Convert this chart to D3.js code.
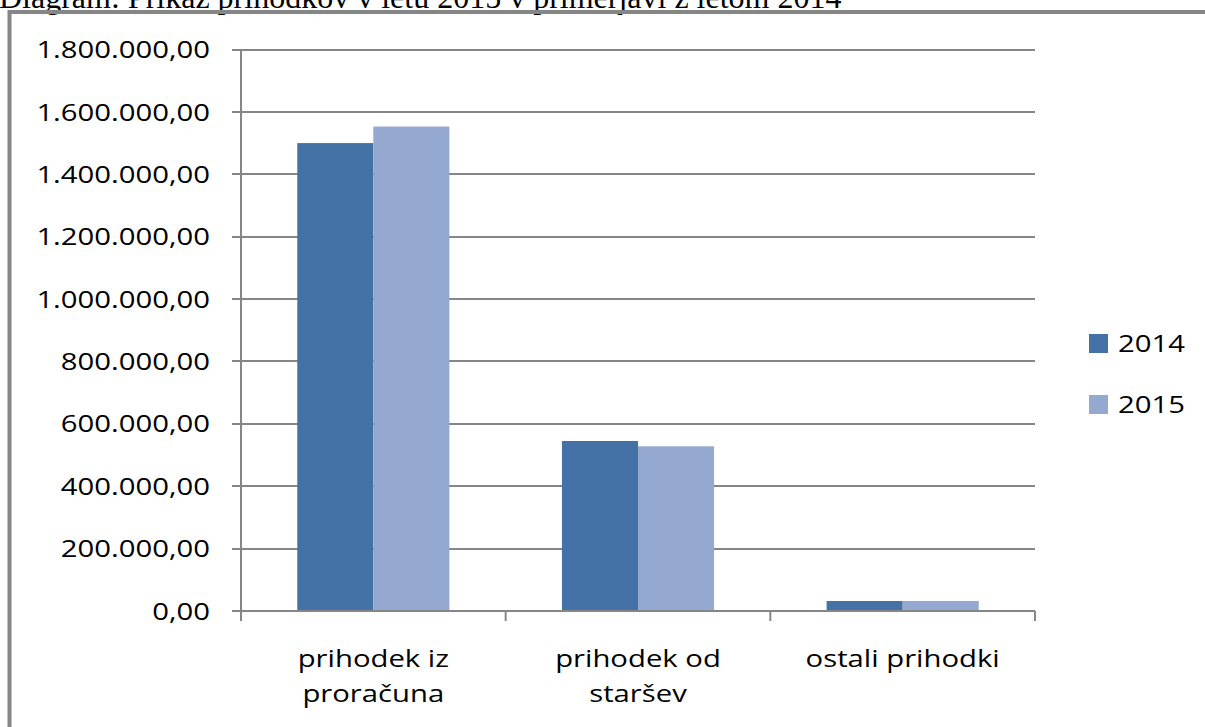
<!DOCTYPE html>
<html>
<head>
<meta charset="utf-8">
<script src="https://cdn.jsdelivr.net/npm/d3@7"></script>
<style>
  html, body { margin: 0; padding: 0; background: #fff; overflow: hidden; }
  svg { display: block; }
</style>
</head>
<body>
<svg id="chart" width="1205" height="727"></svg>
<script>
const titleText = "Diagram: Prikaz prihodkov v letu 2015 v primerjavi z letom 2014";
const categories = ["prihodek iz proračuna", "prihodek od staršev", "ostali prihodki"];
const categoryLines = [["prihodek iz", "proračuna"], ["prihodek od", "staršev"], ["ostali prihodki"]];
const seriesNames = ["2014", "2015"];
const values2014 = [1500000, 545000, 32000];
const values2015 = [1553000, 528000, 32000];
const yTicks = [0, 200000, 400000, 600000, 800000, 1000000, 1200000, 1400000, 1600000, 1800000];
const colors = ["#4572A6", "#94A8D0"];

const seriesValues = [values2014, values2015];
const svg = d3.select("#chart");
const SX = 1.22; // horizontal stretch of the sans texts
const sansFont = "Open Sans, sans-serif";

// title (cropped at top, as in the reference)
svg.append("text")
  .attr("x", -1).attr("y", 8)
  .attr("font-family", "Liberation Serif, Times New Roman, serif")
  .attr("font-size", 32)
  .attr("fill", "#000")
  .text(titleText);

// outer frame
svg.append("rect")
  .attr("x", 9.5).attr("y", 12).attr("width", 1300).attr("height", 800)
  .attr("fill", "none").attr("stroke", "#868686").attr("stroke-width", 4);

const y = d3.scaleLinear().domain([0, 1800000]).range([611, 49.5]);
const x0 = d3.scaleBand().domain(categories).range([241, 1035]).padding(0);
const x1 = d3.scaleBand().domain(seriesNames).range([0, x0.bandwidth()]).paddingInner(0).paddingOuter(0.74);

const fmt = v => {
  const s = d3.format(",.2f")(v);
  return s.replace(/,/g, "#").replace(".", ",").replace(/#/g, ".");
};

// gridlines
svg.append("g").selectAll("line").data(yTicks).join("line")
  .attr("x1", 232).attr("x2", 1035)
  .attr("y1", d => Math.round(y(d))).attr("y2", d => Math.round(y(d)))
  .attr("stroke", "#868686").attr("stroke-width", 2);

// y axis line
svg.append("line").attr("x1", 241).attr("x2", 241).attr("y1", y(1800000)).attr("y2", y(0))
  .attr("stroke", "#868686").attr("stroke-width", 2);

// y labels
svg.append("g").selectAll("text").data(yTicks).join("text")
  .attr("transform", d => `translate(210,${y(d)}) scale(${SX},1)`)
  .attr("dy", "0.36em")
  .attr("text-anchor", "end")
  .attr("font-family", sansFont)
  .attr("font-size", 24)
  .attr("fill", "#000")
  .text(fmt);

// bars
const groups = svg.append("g").selectAll("g").data(categories).join("g")
  .attr("transform", d => `translate(${x0(d)},0)`);
groups.selectAll("rect").data((c, i) => seriesNames.map((s, j) => ({ s, v: seriesValues[j][i], j })))
  .join("rect")
  .attr("x", d => x1(d.s))
  .attr("width", x1.bandwidth())
  .attr("y", d => y(d.v))
  .attr("height", d => y(0) - y(d.v))
  .attr("fill", d => colors[d.j]);

// x axis line and ticks
svg.append("line").attr("x1", 241).attr("x2", 1035).attr("y1", y(0)).attr("y2", y(0))
  .attr("stroke", "#868686").attr("stroke-width", 2);
const bounds = categories.map(c => x0(c)).concat([x0(categories[categories.length - 1]) + x0.bandwidth()]);
svg.append("g").selectAll("line").data(bounds).join("line")
  .attr("x1", d => d).attr("x2", d => d).attr("y1", y(0)).attr("y2", y(0) + 10)
  .attr("stroke", "#868686").attr("stroke-width", 2);

// category labels
const catText = svg.append("g").selectAll("text").data(categories).join("text")
  .attr("transform", d => `translate(${x0(d) + x0.bandwidth() / 2},658) scale(${SX},1)`)
  .attr("text-anchor", "middle")
  .attr("font-family", sansFont)
  .attr("font-size", 24)
  .attr("fill", "#000");
catText.each(function(d, i) {
  d3.select(this).selectAll("tspan").data(categoryLines[i]).join("tspan")
    .attr("x", 0)
    .attr("dy", (t, k) => k === 0 ? "0.36em" : 35)
    .text(t => t);
});

// legend
const leg = svg.append("g").selectAll("g").data(seriesNames).join("g")
  .attr("transform", (d, i) => `translate(1089,${334 + i * 61})`);
leg.append("rect").attr("width", 19).attr("height", 19).attr("fill", (d, i) => colors[i]);
leg.append("text")
  .attr("transform", `translate(29,9.5) scale(${SX},1)`)
  .attr("dy", "0.36em")
  .attr("font-family", sansFont).attr("font-size", 24).attr("fill", "#000")
  .text(d => d);
</script>
</body>
</html>
